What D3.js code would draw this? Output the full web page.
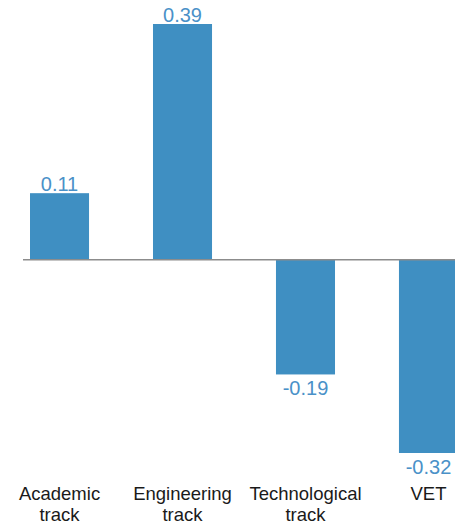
<!DOCTYPE html>
<html>
<head>
<meta charset="utf-8">
<script src="https://cdn.jsdelivr.net/npm/d3@7"></script>
<style>
  html, body { margin: 0; padding: 0; background: #fff; }
  svg { display: block; font-family: "Liberation Sans", Arial, Helvetica, sans-serif; }
</style>
</head>
<body>
<svg id="chart" width="455" height="526"></svg>
<script>
// Track categories (two-line labels) and their values
const categories = ["Academic track", "Engineering track", "Technological track", "VET"];
const labelLines = [["Academic", "track"], ["Engineering", "track"], ["Technological", "track"], ["VET"]];
const values = [0.11, 0.39, -0.19, -0.32];

const barColor = "#3f8fc2";
const valueColor = "#4a91c8";

const svg = d3.select("#chart");

const x = d3.scaleBand()
  .domain(categories)
  .range([0, 488])
  .paddingInner(0.52)
  .paddingOuter(0.244);

const y = d3.scaleLinear()
  .domain([-0.32, 0.39])
  .range([453, 24]);

// Bars
svg.append("g")
  .selectAll("rect")
  .data(values)
  .join("rect")
  .attr("x", (d, i) => x(categories[i]))
  .attr("width", x.bandwidth())
  .attr("y", d => Math.min(y(d), y(0)))
  .attr("height", d => Math.abs(y(d) - y(0)))
  .attr("fill", barColor);

// Zero baseline
svg.append("line")
  .attr("x1", 23)
  .attr("x2", 455)
  .attr("y1", y(0))
  .attr("y2", y(0))
  .attr("stroke", "#8c8c8c")
  .attr("stroke-width", 1.5);

// Value labels above positive bars, below negative bars
svg.append("g")
  .selectAll("text")
  .data(values)
  .join("text")
  .attr("x", (d, i) => x(categories[i]) + x.bandwidth() / 2)
  .attr("y", d => d >= 0 ? y(d) - 2 : y(d) + 21)
  .attr("text-anchor", "middle")
  .attr("font-size", 20)
  .attr("fill", valueColor)
  .text(d => d.toFixed(2));

// Category labels
const cat = svg.append("g")
  .selectAll("text")
  .data(categories)
  .join("text")
  .attr("text-anchor", "middle")
  .attr("font-size", 18.5)
  .attr("fill", "#1a1a1a")
  .attr("transform", d => `translate(${x(d) + x.bandwidth() / 2},500)`);

cat.selectAll("tspan")
  .data((d, i) => labelLines[i])
  .join("tspan")
  .attr("x", 0)
  .attr("dy", (d, j) => j === 0 ? 0 : 21)
  .text(d => d);
</script>
</body>
</html>
